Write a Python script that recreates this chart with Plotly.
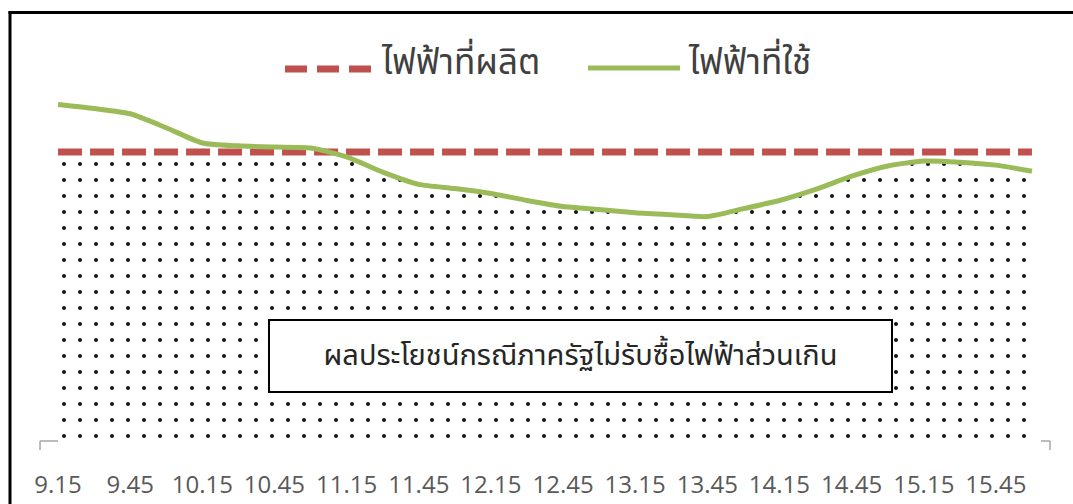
import numpy as np
import plotly.graph_objects as go

# Time slots (every 15 minutes) and series values
times = ["9.15", "9.30", "9.45", "10.00", "10.15", "10.30", "10.45", "11.00",
         "11.15", "11.30", "11.45", "12.00", "12.15", "12.30", "12.45", "13.00",
         "13.15", "13.30", "13.45", "14.00", "14.15", "14.30", "14.45", "15.00",
         "15.15", "15.30", "15.45", "16.00"]
produced = [100.0] * len(times)
used = [116.3, 114.9, 113.1, 108.3, 103.1, 102.1, 101.7, 101.4,
        98.3, 93.1, 88.9, 87.5, 85.8, 83.4, 81.3, 80.3,
        79.2, 78.5, 77.9, 80.6, 83.4, 87.2, 91.7, 95.2,
        96.9, 96.5, 95.5, 93.4]
tick_labels = times[::2]

legend_produced = "ไฟฟ้าที่ผลิต"
legend_used = "ไฟฟ้าที่ใช้"
box_text = "ผลประโยชน์กรณีภาครัฐไม่รับซื้อไฟฟ้าส่วนเกิน"

RED = "#c0504d"
GREEN = "#9bbb59"
THAI_FONT = "Leelawadee UI, Tahoma, Noto Sans Thai, Noto Sans, sans-serif"

W, H = 1073, 504
ML, MR, MT, MB = 40, 23, 60, 60
PW, PH = W - ML - MR, H - MT - MB


def px(x):
    """pixel x -> paper x"""
    return (x - ML) / PW


def py(y):
    """pixel y -> paper y"""
    return (H - MB - y) / PH


covered = np.minimum(np.array(produced), np.array(used))

fig = go.Figure()

# dotted area: electricity covered by own production
fig.add_trace(go.Scatter(
    x=times, y=covered, mode="lines", fill="tozeroy",
    line=dict(width=0, shape="spline", smoothing=0.6, color="rgba(0,0,0,0)"),
    fillcolor="white",
    fillpattern=dict(shape=".", size=16, solidity=0.05,
                     fgcolor="#111111", bgcolor="white", fillmode="replace"),
    hoverinfo="skip", showlegend=False,
))

fig.add_trace(go.Scatter(
    x=times, y=produced, mode="lines", name=legend_produced,
    line=dict(color=RED, width=7, dash="24px,8px"),
    showlegend=False,
))

fig.add_trace(go.Scatter(
    x=times, y=used, mode="lines", name=legend_used,
    line=dict(color=GREEN, width=5, shape="spline", smoothing=0.6),
    showlegend=False,
))

shapes = []
# outer frame (top and left edges)
shapes.append(dict(type="line", xref="paper", yref="paper",
                   x0=px(8.5), x1=px(1074), y0=py(12.5), y1=py(12.5),
                   line=dict(color="black", width=3)))
shapes.append(dict(type="line", xref="paper", yref="paper",
                   x0=px(10), x1=px(10), y0=py(11), y1=py(505),
                   line=dict(color="black", width=3)))
# axis end brackets
ax_col = "#a6a6a6"
shapes.append(dict(type="line", xref="paper", yref="paper",
                   x0=0, x1=px(58), y0=py(441), y1=py(441),
                   line=dict(color=ax_col, width=1.5)))
shapes.append(dict(type="line", xref="paper", yref="paper",
                   x0=0, x1=0, y0=py(441), y1=py(450),
                   line=dict(color=ax_col, width=1.5)))
shapes.append(dict(type="line", xref="paper", yref="paper",
                   x0=px(1041), x1=1, y0=py(441), y1=py(441),
                   line=dict(color=ax_col, width=1.5)))
shapes.append(dict(type="line", xref="paper", yref="paper",
                   x0=1, x1=1, y0=py(441), y1=py(450),
                   line=dict(color=ax_col, width=1.5)))
# legend samples
shapes.append(dict(type="line", xref="paper", yref="paper",
                   x0=px(285), x1=px(373), y0=py(69), y1=py(69),
                   line=dict(color=RED, width=7, dash="22px,10px")))
shapes.append(dict(type="line", xref="paper", yref="paper",
                   x0=px(588), x1=px(680), y0=py(68), y1=py(68),
                   line=dict(color=GREEN, width=5)))

annotations = [
    dict(xref="paper", yref="paper", x=px(379), y=py(63), xanchor="left",
         yanchor="middle", text=legend_produced, showarrow=False,
         font=dict(family=THAI_FONT, size=35, color="#404040")),
    dict(xref="paper", yref="paper", x=px(686), y=py(63), xanchor="left",
         yanchor="middle", text=legend_used, showarrow=False,
         font=dict(family=THAI_FONT, size=35, color="#404040")),
    dict(xref="paper", yref="paper", x=px(580.5), y=py(356), xanchor="center",
         yanchor="middle", text=box_text, showarrow=False,
         width=617, height=66, borderpad=2, borderwidth=2,
         bordercolor="black", bgcolor="white",
         font=dict(family=THAI_FONT, size=29, color="#262626")),
]

fig.update_layout(
    width=W, height=H,
    margin=dict(l=ML, r=MR, t=MT, b=MB),
    paper_bgcolor="white", plot_bgcolor="white",
    showlegend=False,
    shapes=shapes, annotations=annotations,
    xaxis=dict(type="category", range=[-0.5, len(times) - 0.5],
               tickvals=tick_labels, ticktext=tick_labels,
               showgrid=False, zeroline=False, showline=False,
               automargin=False,
               ticks="outside", ticklen=19, tickcolor="rgba(0,0,0,0)",
               tickfont=dict(family="Open Sans, Noto Sans, sans-serif",
                             size=24, color="#595959")),
    yaxis=dict(range=[0, PH / 2.92], visible=False, showgrid=False,
               zeroline=False, automargin=False),
)

fig.write_html("out.html")
